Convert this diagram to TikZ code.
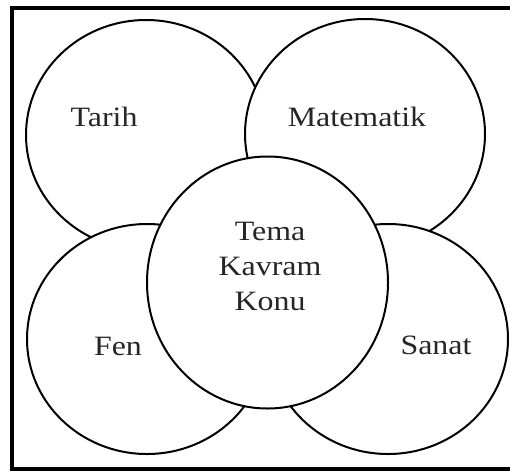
\documentclass[tikz,border=0pt]{standalone}
\usepackage{fontspec}
\setmainfont[FakeStretch=1.14]{Liberation Serif}
\usetikzlibrary{shapes.geometric}

\begin{document}
\begin{tikzpicture}[
    x=1pt, y=-1pt,
    font=\fontsize{28}{35}\selectfont,
    blob/.style={
      ellipse, draw=black, fill=white, line width=2pt,
      inner sep=0pt, minimum width=240pt, minimum height=230pt
    },
    lbl/.style={anchor=base, inner sep=0pt, text=black!85}
  ]
  \useasboundingbox (0,0) rectangle (510,471);
  \draw[line width=4pt] (12,8) rectangle (516,469);
  \node[blob] (tarih) at (146,135) {};
  \node[blob] (matematik) at (365,134) {};
  \node[blob] (fen) at (147,339) {};
  \node[blob] (sanat) at (388,339) {};
  \node[blob, minimum width=241pt, minimum height=252pt] (merkez) at (267.5,282.5) {};
  \node[lbl] (tarihlbl) at (104,126) {Tarih};
  \node[lbl] (matematiklbl) at (357,126) {Matematik};
  \node[lbl] (fenlbl) at (118,355) {Fen};
  \node[lbl] (sanatlbl) at (436,354) {Sanat};
  \node[lbl, align=center] (merkezlbl) at (270,310) {Tema\\Kavram\\Konu};
\end{tikzpicture}
\end{document}
